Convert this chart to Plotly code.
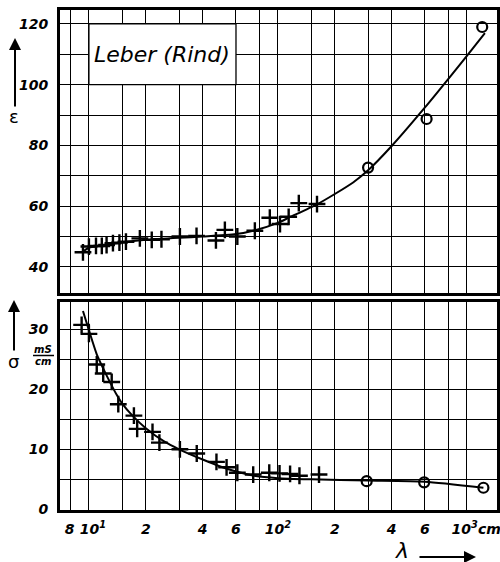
import plotly.graph_objects as go
import numpy as np

# ---------------- data ----------------
# permittivity epsilon, measured points (crosses)
eps_cross_x = [9.3, 10.0, 10.9, 11.7, 12.4, 13.4, 14.5, 15.7, 18.6, 21.5, 24.2, 30.3, 37.1,
               47.0, 52.4, 61.0, 75.5, 90.6, 102.6, 114, 129, 161]
eps_cross_y = [44.8, 46.7, 46.9, 46.9, 47.2, 47.8, 48.0, 48.3, 49.4, 48.9, 49.1, 50.0, 50.2,
               48.7, 52.2, 50.0, 51.9, 56.2, 54.1, 56.5, 61.0, 60.7]
# epsilon, circles
eps_circ_x = [300, 612, 1205]
eps_circ_y = [72.7, 88.7, 119.0]
# epsilon, fitted curve
eps_curve_x = [9.3, 10, 12, 15, 20, 30, 40, 60, 75, 100, 115, 160, 200, 250, 300, 400, 600, 800, 1000, 1245]
eps_curve_y = [45.0, 46.3, 47.2, 48.1, 48.9, 49.6, 50.0, 50.8, 52.0, 54.5, 56.3, 60.5, 64.0, 67.8,
               71.8, 79.8, 92.5, 102.0, 109.5, 117.0]

# conductivity sigma (mS/cm), crosses
sig_cross_x = [9.15, 10.0, 11.0, 11.9, 13.2, 14.3, 17.3, 18.0, 21.7, 23.6, 30.3, 37.2, 47.3, 53.5,
               61.0, 74.0, 90.0, 102, 116, 130, 165]
sig_cross_y = [30.7, 29.2, 24.1, 22.6, 21.2, 17.5, 15.6, 13.4, 12.9, 11.1, 10.0, 9.3, 7.9, 7.0,
               6.1, 5.8, 6.1, 6.0, 5.9, 5.6, 5.8]
# sigma, circles
sig_circ_x = [295, 594, 1223]
sig_circ_y = [4.7, 4.5, 3.6]
# sigma, fitted curve
sig_curve_x = [9.3, 10, 11, 12, 13, 14, 15, 17, 20, 25, 30, 40, 50, 60, 75, 100, 150, 300, 600, 1223]
sig_curve_y = [33.0, 29.8, 25.8, 23.2, 21.0, 19.1, 17.6, 15.6, 13.5, 11.3, 10.0, 8.3, 7.1, 6.3,
               5.6, 5.2, 5.0, 4.8, 4.6, 3.6]

# axis grid and tick labels (label positions follow the hand lettering of the original)
x_grid = [8, 10, 15, 20, 30, 40, 60, 80, 100, 150, 200, 300, 400, 600, 800, 1000]
x_label_pos = [7.9, 10.5, 20, 40, 60, 100, 200, 400, 600, 1120]
x_labels = ["8", "10<sup>1</sup>", "2", "4", "6", "10<sup>2</sup>", "2", "4", "6", "10<sup>3</sup>cm"]
eps_ticks = [40, 50, 60, 70, 80, 90, 100, 110, 120]
eps_labels = ["40", "", "60", "", "80", "", "100", "", "120"]
sig_ticks = [0, 5, 10, 15, 20, 25, 30]
sig_labels = ["0", "", "10", "", "20", "", "30"]

# ---------------- figure ----------------
FONT = "DejaVu Sans"
tickfont = dict(family=FONT, size=14, color="black", style="italic", weight="bold")
cross = dict(symbol="cross-thin", size=12, color="black", line=dict(width=2.4, color="black"))
circ = dict(symbol="circle-open", size=10, color="black", line=dict(width=2.2, color="black"))
curve_line = dict(color="black", width=2, shape="spline", smoothing=0.6)

fig = go.Figure()
fig.add_trace(go.Scatter(x=eps_curve_x, y=eps_curve_y, mode="lines", line=curve_line,
                         xaxis="x", yaxis="y", hoverinfo="skip"))
fig.add_trace(go.Scatter(x=eps_cross_x, y=eps_cross_y, mode="markers", marker=cross, xaxis="x", yaxis="y"))
fig.add_trace(go.Scatter(x=eps_circ_x, y=eps_circ_y, mode="markers", marker=circ, xaxis="x", yaxis="y"))

fig.add_trace(go.Scatter(x=sig_curve_x, y=sig_curve_y, mode="lines", line=curve_line,
                         xaxis="x2", yaxis="y2", hoverinfo="skip"))
fig.add_trace(go.Scatter(x=sig_cross_x, y=sig_cross_y, mode="markers", marker=cross, xaxis="x2", yaxis="y2"))
fig.add_trace(go.Scatter(x=sig_circ_x, y=sig_circ_y, mode="markers", marker=circ, xaxis="x2", yaxis="y2"))

xr = [np.log10(7.03), np.log10(1443)]
common_x = dict(type="log", range=xr, tickvals=x_label_pos, ticktext=x_labels, showgrid=False,
                minor=dict(tickvals=x_grid, showgrid=True, gridcolor="black", gridwidth=1.3, ticks=""),
                showline=True, linecolor="black", linewidth=3, mirror=True, zeroline=False, ticks="",
                tickangle=0, automargin=False, ticklabeloverflow="allow")
common_y = dict(showgrid=True, gridcolor="black", gridwidth=1.3, showline=True, linecolor="black",
                linewidth=3, mirror=True, zeroline=False, ticks="", tickfont=tickfont, ticklabelstandoff=6,
                automargin=False)

fig.update_layout(
    width=500, height=562,
    margin=dict(l=60, r=3, t=10, b=52),
    paper_bgcolor="white", plot_bgcolor="white",
    showlegend=False,
    xaxis=dict(common_x, domain=[0, 1], anchor="y", showticklabels=False),
    yaxis=dict(common_y, domain=[0.434, 1.0], range=[31.4, 124.6], tickvals=eps_ticks, ticktext=eps_labels),
    xaxis2=dict(common_x, domain=[0, 1], anchor="y2", tickfont=tickfont, ticklabelstandoff=4),
    yaxis2=dict(common_y, domain=[0.0, 0.416], range=[-0.1, 34.5], tickvals=sig_ticks, ticktext=sig_labels),
)

W, H, L, T = 437.0, 500.0, 60.0, 10.0
def px(x):
    return (x - L) / W
def py(y):
    return (H + T - y) / H

def label(x, y, text, size, italic=False):
    fig.add_annotation(xref="paper", yref="paper", x=px(x), y=py(y), text=text, showarrow=False,
                       xanchor="center", yanchor="middle",
                       font=dict(family=FONT, size=size, color="black", style="italic" if italic else "normal"))

def arrow(x, y, ax, ay):
    fig.add_annotation(xref="paper", yref="paper", x=px(x), y=py(y), ax=ax, ay=ay, axref="pixel", ayref="pixel",
                       text="", showarrow=True, arrowhead=2, arrowsize=1.2, arrowwidth=2, arrowcolor="black")

# title box "Leber (Rind)"
fig.add_shape(type="rect", xref="x", yref="y", x0=10, x1=60, y0=100, y1=120,
              fillcolor="white", line=dict(color="black", width=1.3), layer="above")
fig.add_annotation(xref="x", yref="y", x=np.log10(24.5), y=110, text="Leber (Rind)", showarrow=False,
                   xanchor="center", yanchor="middle",
                   font=dict(family=FONT, size=22, color="black", style="italic"))

# y-axis labels with arrows
arrow(15, 38, 0, 70)
label(14, 117, "ε", 18)
arrow(14, 300, 0, 52)
label(13, 361, "σ", 18)
label(43, 350, "<b>mS</b>", 10, italic=True)
fig.add_shape(type="line", xref="paper", yref="paper", x0=px(33), x1=px(54),
              y0=py(355.5), y1=py(355.5), line=dict(color="black", width=1.5))
label(43, 361, "<b>cm</b>", 10, italic=True)

# lambda arrow
label(402, 550, "λ", 22, italic=True)
arrow(476, 557, -58, 0)

fig.write_html("out.html")
